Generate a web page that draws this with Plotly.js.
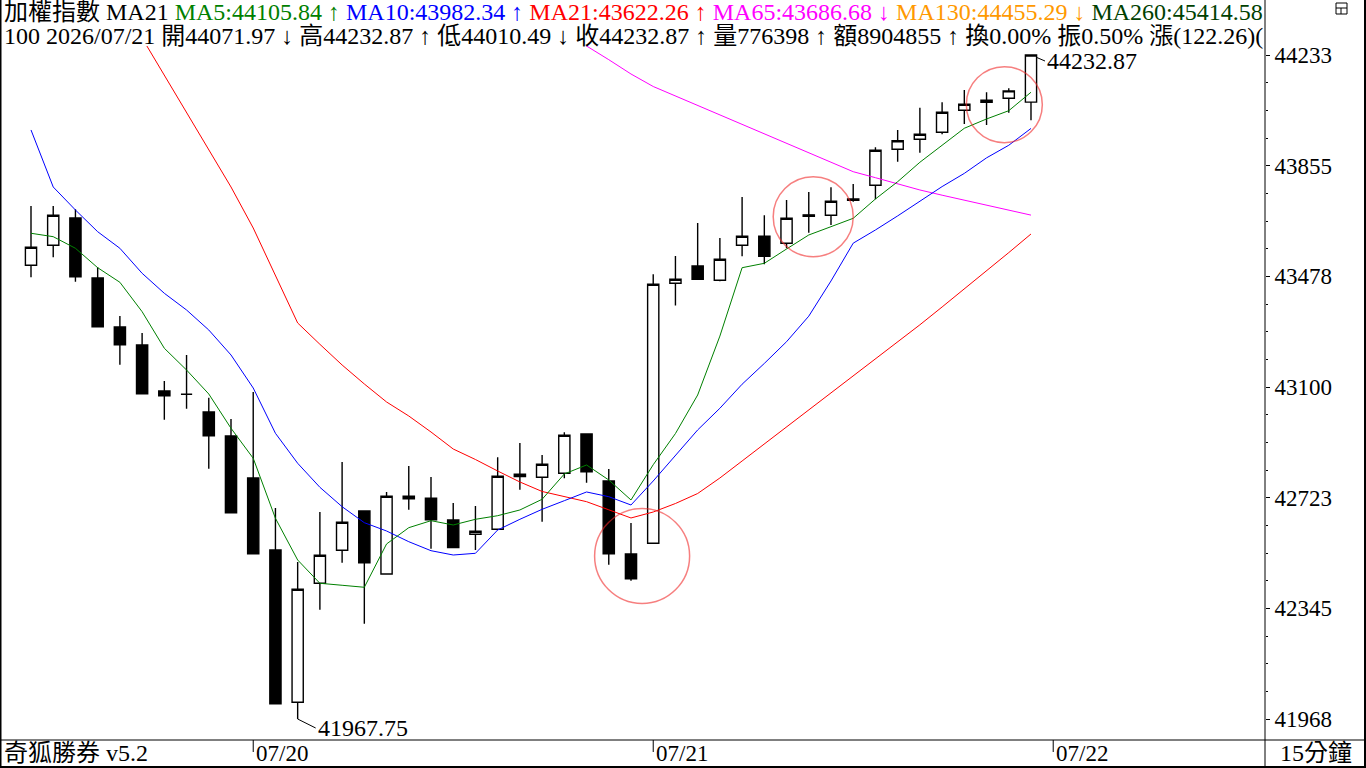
<!DOCTYPE html>
<html><head><meta charset="utf-8">
<script src="https://cdn.plot.ly/plotly-3.0.1.min.js"></script>
<style>html,body{margin:0;padding:0;background:#fff;}#chart{width:1366px;height:768px;}</style>
</head><body><div id="chart"></div>
<script>
// ---- data (15-minute bars, oldest first) ----
const openP  = [43515.5,43583.7,43676.9,43472.2,43305.0,43243.6,43086.7,43075.4,43015.1,42933.2,42789.9,42544.3,42024.8,42430.7,42543.3,42677.3,42462.4,42727.5,42720.7,42646.6,42597.9,42614.9,42802.5,42792.3,42805.9,42940.0,42779.7,42530.7,42567.2,43454.1,43513.1,43464.3,43583.7,43614.4,43590.6,43687.5,43686.1,43741.5,43788.4,43911.2,43945.3,43969.2,44044.3,44071.5,44085.2,44071.97];
const highP  = [43717.8,43717.8,43706.5,43508.7,43342.5,43284.6,43120.8,43209.5,43063.8,42991.2,43083.3,42687.6,42503.4,42673.9,42844.5,42677.3,42742.2,42830.9,42793.3,42704.6,42694.4,42860.5,42909.3,42868.4,42945.8,42942.4,42820.6,42636.4,43484.8,43547.2,43659.8,43608.6,43748.5,43686.1,43738.3,43765.6,43781.6,43792.8,43918.0,43977.1,44053.1,44071.5,44113.5,44105.7,44119.3,44232.87];
const lowP   = [43474.6,43542.8,43459.6,43306.0,43176.4,43077.5,42988.8,43026.3,42821.6,42671.5,42531.7,42020.0,41967.75,42340.7,42501.0,42292.9,42462.4,42681.8,42548.7,42552.2,42544.3,42614.9,42750.0,42640.8,42788.9,42773.9,42494.2,42439.6,42567.2,43378.4,43467.7,43460.9,43546.2,43518.9,43573.5,43626.7,43653.0,43732.5,43740.6,43868.9,43899.6,43962.4,43997.5,43994.1,44036.1,44010.49];
const closeP = [43576.9,43686.1,43476.6,43306.0,43244.6,43077.5,43070.7,43075.4,42934.2,42671.5,42531.7,42020.0,42410.2,42526.2,42638.8,42501.0,42727.5,42719.3,42647.7,42552.2,42608.1,42795.7,42794.4,42836.7,42935.6,42811.4,42531.7,42446.4,43450.7,43467.7,43467.7,43536.0,43614.4,43546.2,43675.8,43682.5,43733.8,43737.0,43907.8,43940.6,43962.4,44037.4,44064.7,44078.4,44110.61,44232.87];

const ma5  = [43624.7,43613.1,43573.5,43507.3,43457.5,43357.2,43232.4,43158.3,43076.5,42959.5,42857.1,42652.4,42510.2,42430.7,42423.9,42417.1,42564.8,42620.4,42644.3,42629.6,42649.0,42661.3,42680.8,42717.3,42803.6,42834.3,42783.1,42714.9,42835.2,42941.6,43073.0,43274.0,43507.3,43522.3,43571.1,43618.9,43647.2,43675.8,43741.7,43800.7,43866.9,43925.9,43982.9,44014.6,44042.9,44105.84];
const ma10 = [43977.1,43782.6,43704.1,43630.1,43573.5,43488.2,43420.0,43363.0,43294.8,43209.5,43096.9,42942.4,42840.1,42758.2,42692.0,42637.4,42609.1,42572.6,42541.9,42527.2,42533.0,42612.5,42649.0,42683.1,42712.5,42742.2,42726.1,42697.8,42779.7,42867.8,42953.8,43027.8,43109.8,43180.8,43254.8,43342.0,43462.0,43591.0,43636.0,43684.0,43733.0,43784.0,43829.0,43882.0,43925.0,43982.34];
const ma21 = [null,null,null,null,null,44290.9,44164.6,44036.8,43908.8,43782.6,43642.7,43479.0,43318.7,43246.0,43175.4,43110.6,43049.2,43001.4,42946.8,42888.8,42853.0,42813.8,42776.3,42743.9,42726.8,42709.1,42681.4,42653.5,42673.9,42702.9,42737.0,42789.9,42847.9,42905.9,42965.9,43023.6,43080.9,43138.6,43195.9,43255.9,43312.5,43373.3,43434.7,43498.1,43558.8,43622.26];
const ma65 = [null,null,null,null,null,null,null,null,null,null,null,null,null,null,null,null,null,null,null,null,null,null,null,null,44318.2,44263.6,44216.9,44168.1,44125.4,44093.0,44060.6,44028.2,43997.5,43963.4,43931.0,43898.6,43866.2,43834.8,43814.3,43792.8,43772.4,43754.6,43737.6,43719.8,43702.8,43686.68];

// marked areas (bar position, price at circle centre)
const markBar   = [27.5, 35.2, 43.8];
const markPrice = [42523.8, 43681.3, 44063.3];

// day boundaries (bar index of first bar of the day) and labels
const dayBar   = [10, 28, 46];
const dayLabel = ['07/20', '07/21', '07/22'];

// y axis ticks
const yTickVals = [41967.75, 42345.27, 42722.79, 43100.31, 43477.83, 43855.35, 44232.87];
const yTickText = ['41968', '42345', '42723', '43100', '43478', '43855', '44233'];

// header info
const maNames  = ['MA5', 'MA10', 'MA21', 'MA65', 'MA130', 'MA260'];
const maValues = ['44105.84', '43982.34', '43622.26', '43686.68', '44455.29', '45414.58'];
const maArrows = ['↑', '↑', '↑', '↓', '↓', '↓'];
const infoText = '100 2026/07/21 開44071.97 ↓ 高44232.87 ↑ 低44010.49 ↓ 收44232.87 ↑ 量776398 ↑ 額8904855 ↑ 換0.00% 振0.50% 漲(122.26)(';

// ---- drawing ----
const L = 1, R = 1265, T = 46, B = 740;
const FONT = '"Liberation Serif","Noto Sans CJK TC",serif';
const px2x = p => (p - L) / (R - L);
const py2y = p => (B - p) / (B - T);
const barX = closeP.map((_, i) => i);
const maColors = ['#008000', '#0000ff', '#ff0000', '#ff00ff', '#ff9900', '#004000'];

const traces = [
  {
    type: 'candlestick', x: barX, open: openP, high: highP, low: lowP, close: closeP,
    increasing: {line: {color: '#000', width: 1.4}, fillcolor: '#ffffff'},
    decreasing: {line: {color: '#000', width: 1.4}, fillcolor: '#000000'},
    whiskerwidth: 0, hoverinfo: 'skip', showlegend: false
  },
  {type: 'scatter', mode: 'lines', x: barX, y: ma65, line: {color: '#ff00ff', width: 1}, hoverinfo: 'skip'},
  {type: 'scatter', mode: 'lines', x: barX, y: ma21, line: {color: '#ff0000', width: 1}, hoverinfo: 'skip'},
  {type: 'scatter', mode: 'lines', x: barX, y: ma10, line: {color: '#0000ff', width: 1}, hoverinfo: 'skip'},
  {type: 'scatter', mode: 'lines', x: barX, y: ma5, line: {color: '#008000', width: 1}, hoverinfo: 'skip'},
  {type: 'scatter', mode: 'markers', x: markBar, y: markPrice, hoverinfo: 'skip',
   marker: {symbol: 'circle-open', size: [95, 80, 76], color: 'rgba(240,40,40,0.85)', line: {width: 1.5}}}
];

let hdr1 = '加權指數 MA21';
maNames.forEach((n, i) => {
  hdr1 += ' <span style="color:' + maColors[i] + '">' + n + ':' + maValues[i] + ' ' + maArrows[i] + '</span>';
});

let maxI = 0, minI = 0;
highP.forEach((v, i) => { if (v > highP[maxI]) maxI = i; });
lowP.forEach((v, i) => { if (v < lowP[minI]) minI = i; });

const annotations = [
  {xref: 'paper', yref: 'paper', x: px2x(2), y: py2y(12), xanchor: 'left', yanchor: 'middle', align: 'left',
   width: 1262, showarrow: false, text: hdr1, font: {family: FONT, size: 24, color: '#000'}},
  {xref: 'paper', yref: 'paper', x: px2x(2), y: py2y(36), xanchor: 'left', yanchor: 'middle', align: 'left',
   width: 1262, showarrow: false, text: infoText, font: {family: FONT, size: 24, color: '#000'}},
  {xref: 'x', yref: 'y', x: maxI, y: highP[maxI], text: highP[maxI].toFixed(2), showarrow: true,
   arrowhead: 0, arrowwidth: 1, arrowcolor: '#000', ax: 14, ay: 6, xanchor: 'left', yanchor: 'middle', standoff: 6,
   font: {family: FONT, size: 24, color: '#000'}},
  {xref: 'x', yref: 'y', x: minI, y: lowP[minI], text: lowP[minI].toFixed(2), showarrow: true,
   arrowhead: 0, arrowwidth: 1, arrowcolor: '#000', ax: 18, ay: 9, xanchor: 'left', yanchor: 'middle',
   font: {family: FONT, size: 24, color: '#000'}},
  {xref: 'paper', yref: 'paper', x: px2x(2), y: py2y(753), xanchor: 'left', yanchor: 'middle', showarrow: false,
   text: '奇狐勝券 v5.2', font: {family: FONT, size: 24, color: '#000'}},
  {xref: 'paper', yref: 'paper', x: px2x(1316), y: py2y(753), xanchor: 'center', yanchor: 'middle', showarrow: false,
   text: '15分鐘', font: {family: FONT, size: 24, color: '#000'}}
];
dayBar.forEach((b, i) => annotations.push({
  xref: 'x', yref: 'paper', x: b, xshift: 1, y: py2y(753), xanchor: 'left', yanchor: 'middle', showarrow: false,
  text: dayLabel[i], font: {family: FONT, size: 23, color: '#000'}
}));

const ln = {color: '#000', width: 1};
const shapes = [
  {type: 'line', xref: 'paper', yref: 'paper', x0: px2x(0.5), x1: px2x(0.5), y0: py2y(0), y1: py2y(768), line: {color: '#000', width: 2}},
  {type: 'line', xref: 'paper', yref: 'paper', x0: px2x(1265), x1: px2x(1265), y0: py2y(0), y1: py2y(768), line: ln},
  {type: 'line', xref: 'paper', yref: 'paper', x0: px2x(1365), x1: px2x(1365), y0: py2y(0), y1: py2y(768), line: {color: '#000', width: 2}},
  {type: 'line', xref: 'paper', yref: 'paper', x0: px2x(0), x1: px2x(1366), y0: py2y(740), y1: py2y(740), line: ln},
  {type: 'line', xref: 'paper', yref: 'paper', x0: px2x(0), x1: px2x(1366), y0: py2y(767), y1: py2y(767), line: {color: '#000', width: 2}},
  {type: 'rect', xref: 'paper', yref: 'paper', x0: px2x(1336), x1: px2x(1347), y0: py2y(14), y1: py2y(3), line: ln, fillcolor: 'rgba(0,0,0,0)'},
  {type: 'line', xref: 'paper', yref: 'paper', x0: px2x(1341), x1: px2x(1341), y0: py2y(14), y1: py2y(8), line: ln},
  {type: 'line', xref: 'paper', yref: 'paper', x0: px2x(1336), x1: px2x(1347), y0: py2y(8), y1: py2y(8), line: ln}
];
dayBar.forEach(b => shapes.push({type: 'line', xref: 'x', yref: 'paper', x0: b, x1: b, y0: py2y(740), y1: py2y(752), line: ln}));

const pxPerPt = (719 - 55) / (yTickVals[6] - yTickVals[0]);
const layout = {
  width: 1366, height: 768,
  margin: {l: L, r: 1366 - R, t: T, b: 768 - B, pad: 0},
  paper_bgcolor: '#fff', plot_bgcolor: '#fff', showlegend: false,
  boxgap: 0.28,
  xaxis: {range: [-30 / 22.222, (R - 31) / 22.222], showgrid: false, zeroline: false, showticklabels: false,
          ticks: '', showline: false, rangeslider: {visible: false}, fixedrange: true},
  yaxis: {side: 'right', range: [yTickVals[0] - (B - 719) / pxPerPt, yTickVals[6] + (55 - T) / pxPerPt],
          tickmode: 'array', tickvals: yTickVals, ticktext: yTickText, ticks: 'outside', ticklen: 4, tickwidth: 1,
          tickcolor: '#000', tickfont: {family: FONT, size: 23, color: '#000'}, showgrid: false, zeroline: false,
          showline: false, fixedrange: true,
          minor: {tick0: yTickVals[0], dtick: (yTickVals[1] - yTickVals[0]) / 4, ticks: 'outside', ticklen: 2, tickcolor: '#000', showgrid: false}},
  annotations: annotations,
  shapes: shapes
};

Plotly.newPlot('chart', traces, layout, {displayModeBar: false, staticPlot: true});
</script>
</body></html>
